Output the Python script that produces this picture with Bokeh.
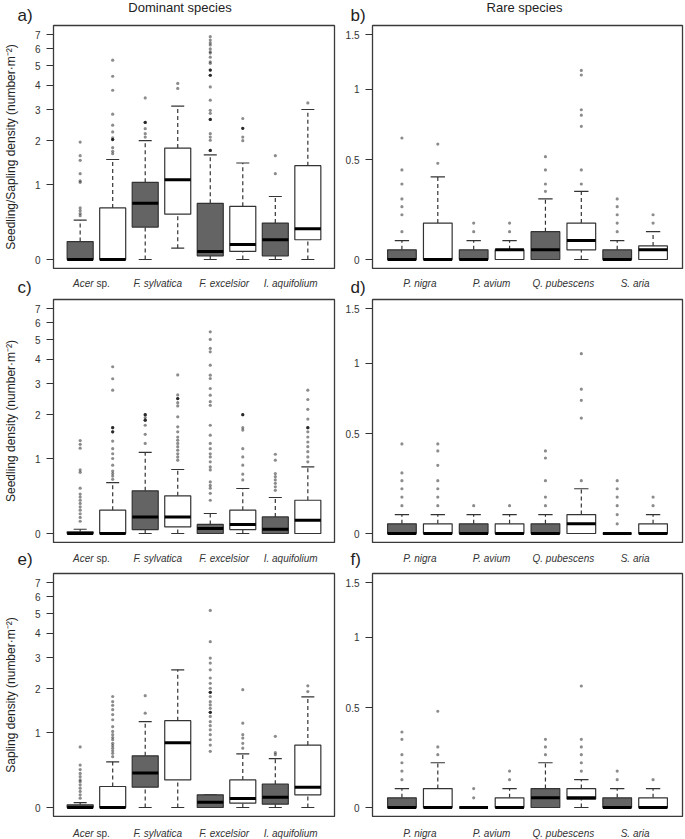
import numpy as np
from bokeh.plotting import figure
from bokeh.models import Range1d, FixedTicker, CustomJSTickFormatter
from bokeh.core.properties import value
from bokeh.layouts import column, row
from bokeh.embed import file_html
from bokeh.resources import INLINE

# ---------------- data (number per m2) ----------------
dominant_species = ["Acer sp.", "F. sylvatica", "F. excelsior", "I. aquifolium"]
rare_species = ["P. nigra", "P. avium", "Q. pubescens", "S. aria"]
box_fills = ["#646464", "#ffffff"] * 4
dominant_ticks = [0, 1, 2, 3, 4, 5, 6, 7]
rare_ticks = [0, 0.5, 1, 1.5]
column_titles = ["Dominant species", "Rare species"]
panel_letters = [["a)", "b)"], ["c)", "d)"], ["e)", "f)"]]

# a) dominant, seedling/sapling
a_lo = [0, 0, 0, 0.11, 0, 0, 0, 0]
a_q1 = [0, 0, 0.35, 0.52, 0.035, 0.077, 0.035, 0.20]
a_med = [0, 0, 0.68, 1.09, 0.077, 0.15, 0.20, 0.33]
a_q3 = [0.18, 0.61, 1.04, 1.80, 0.68, 0.635, 0.40, 1.38]
a_hi = [0.44, 1.52, 2.0, 3.13, 1.63, 1.44, 0.79, 3.0]
a_out = [
    [0.5, 0.53, 0.57, 0.61, 1.04, 1.07, 1.21, 1.5, 1.61, 1.96],
    [1.66, 1.72, 1.81, 2.03, 2.03, 2.03, 2.08, 2.25, 2.46, 2.83, 3.78, 4.44, 5.31],
    [2.1, 2.2, 2.35, 2.55, 2.55, 2.55, 3.45],
    [3.86, 4.09],
    [1.74, 1.74, 1.74, 2.01, 2.1, 2.2, 2.65, 2.65, 2.65, 2.86, 2.97, 3.36, 3.93,
     4.49, 4.49, 4.49, 4.76, 4.76, 4.76, 5.13, 5.22, 5.49, 5.74, 5.82, 6.0, 6.26,
     6.4, 6.6, 6.84],
    [2.0, 2.1, 2.36, 2.36, 2.36, 2.68],
    [1.21, 1.61],
    [3.25],
]

# b) rare, seedling/sapling
b_lo = [0, 0, 0, 0, 0, 0, 0, 0]
b_q1 = [0, 0, 0, 0, 0, 0.04, 0, 0]
b_med = [0, 0, 0, 0.04, 0.04, 0.08, 0, 0.04]
b_q3 = [0.04, 0.16, 0.04, 0.04, 0.12, 0.16, 0.04, 0.057]
b_hi = [0.08, 0.40, 0.08, 0.08, 0.28, 0.32, 0.08, 0.12]
b_out = [
    [0.12, 0.2, 0.24, 0.28, 0.36, 0.44, 0.64],
    [0.48, 0.6],
    [0.12, 0.16],
    [0.12, 0.16],
    [0.32, 0.36, 0.44, 0.52],
    [0.36, 0.44, 0.72, 0.8, 0.84, 1.12, 1.16],
    [0.12, 0.16, 0.2, 0.24, 0.28],
    [0.16, 0.2],
]

# c) dominant, seedling
c_lo = [0, 0, 0, 0, 0, 0, 0, 0]
c_q1 = [0, 0, 0.037, 0.063, 0, 0.037, 0, 0]
c_med = [0, 0, 0.166, 0.166, 0.047, 0.087, 0.04, 0.131]
c_q3 = [0.016, 0.24, 0.483, 0.417, 0.087, 0.24, 0.166, 0.36]
c_hi = [0.04, 0.60, 1.116, 0.807, 0.203, 0.516, 0.395, 0.85]
c_out = [
    [0.12, 0.16, 0.2, 0.24, 0.28, 0.32, 0.36, 0.4, 0.44, 0.52, 0.76, 0.8, 1.2, 1.28, 1.36],
    [0.65, 0.7, 0.74, 0.78, 0.88, 1.0, 1.09, 1.19, 1.35, 1.56, 1.56, 1.56, 1.66, 1.66,
     1.66, 2.76, 3.18, 3.67],
    [1.3, 1.5, 1.72, 1.85, 1.85, 1.85, 1.92, 2.0, 2.0, 2.0],
    [0.97, 1.03, 1.09, 1.16, 1.23, 1.3, 1.37, 1.44, 1.56, 1.68, 1.94, 2.25, 2.35, 2.48,
     2.48, 2.48, 2.6, 3.33],
    [0.36, 0.45, 0.52, 0.56, 0.61, 0.8, 0.85, 0.94, 1.03, 1.09, 1.19, 1.3, 1.48, 1.72,
     2.27, 2.38, 2.59, 2.82, 3.19, 3.32, 3.74, 4.36, 4.53, 5.01, 5.45],
    [0.64, 0.73, 0.88, 1.03, 1.19, 1.6, 1.66, 2.0, 2.0, 2.0],
    [0.49, 0.54, 0.59, 0.64, 0.69, 0.74, 0.97, 1.08],
    [0.94, 1.03, 1.13, 1.23, 1.33, 1.44, 1.56, 1.66, 1.66, 1.66, 1.88, 2.15, 2.45, 2.76],
]

# d) rare, seedling
d_lo = [0, 0, 0, 0, 0, 0, 0, 0]
d_q1 = [0, 0, 0, 0, 0, 0, 0, 0]
d_med = [0, 0, 0, 0, 0, 0.04, 0, 0]
d_q3 = [0.04, 0.04, 0.04, 0.04, 0.04, 0.08, 0, 0.04]
d_hi = [0.08, 0.08, 0.08, 0.08, 0.08, 0.2, 0, 0.08]
d_out = [
    [0.12, 0.16, 0.2, 0.24, 0.28, 0.44],
    [0.12, 0.16, 0.2, 0.24, 0.32, 0.4, 0.44],
    [0.12],
    [0.12],
    [0.12, 0.16, 0.24, 0.36, 0.4],
    [0.24, 0.6, 0.72, 0.8, 1.08],
    [0.04, 0.08, 0.12, 0.16, 0.2, 0.24],
    [0.12, 0.16],
]

# e) dominant, sapling
e_lo = [0, 0, 0, 0, 0, 0, 0, 0]
e_q1 = [0, 0, 0.207, 0.29, 0, 0.041, 0.031, 0.124]
e_med = [0, 0, 0.374, 0.82, 0.05, 0.087, 0.10, 0.207]
e_q3 = [0.025, 0.214, 0.612, 1.23, 0.124, 0.29, 0.24, 0.78]
e_hi = [0.047, 0.525, 1.21, 2.57, 0.124, 0.64, 0.57, 1.78]
e_out = [
    [0.09, 0.124, 0.16, 0.196, 0.233, 0.27, 0.29, 0.33, 0.37, 0.42, 0.48, 0.75],
    [0.6, 0.65, 0.69, 0.73, 0.77, 0.81, 0.87, 0.91, 0.96, 1.02, 1.11, 1.25, 1.36, 1.47,
     1.57, 1.66, 1.79],
    [1.39, 1.81],
    [],
    [0.68, 0.78, 0.87, 0.96, 1.05, 1.13, 1.21, 1.32, 1.41, 1.41, 1.41, 1.5, 1.58, 1.66,
     1.79, 1.9, 1.9, 1.9, 2.01, 2.15, 2.31, 2.57, 2.8, 2.98, 3.63, 5.18],
    [0.73, 0.81, 0.9, 0.96, 1.18, 1.97],
    [0.63, 0.66, 0.93],
    [1.92, 2.08],
]

# f) rare, sapling
f_lo = [0, 0, 0, 0, 0, 0, 0, 0]
f_q1 = [0, 0, 0, 0, 0, 0.035, 0, 0]
f_med = [0, 0, 0, 0, 0.04, 0.04, 0, 0]
f_q3 = [0.04, 0.08, 0, 0.04, 0.08, 0.08, 0.04, 0.04]
f_hi = [0.08, 0.2, 0, 0.08, 0.2, 0.12, 0.08, 0.08]
f_out = [
    [0.12, 0.16, 0.2, 0.24, 0.32, 0.36],
    [0.24, 0.28, 0.48],
    [0.04, 0.08],
    [0.12, 0.16],
    [0.24, 0.28, 0.32],
    [0.16, 0.2, 0.24, 0.28, 0.32, 0.64],
    [0.12, 0.16],
    [0.12],
]

# ---------------- geometry & style ----------------
FONT = "Liberation Sans"
INK = "#333333"
X0, X1 = 0.18, 8.82                      # R-style 4% expanded x limits
GEOM = [dict(fw=287, bl=47, br=6), dict(fw=310, bl=32, br=3)]
FRAME_H = 243
STRIP_H = [24, 29, 29, 22]               # text strips above/between/below rows


def scale(col):
    return GEOM[col]["fw"] / (X1 - X0)


def make_panel(col, ticks, ylabel):
    g = GEOM[col]
    top_val = ticks[-1] + 1.0
    p = figure(width=g["bl"] + g["fw"] + g["br"], height=FRAME_H + 2,
               y_axis_type="log", x_axis_location=None,
               x_range=Range1d(X0, X1),
               y_range=Range1d(top_val ** -0.04, top_val ** 1.04),
               output_backend="svg", toolbar_location=None,
               min_border_left=g["bl"], min_border_right=g["br"],
               min_border_top=1, min_border_bottom=1)
    p.xgrid.visible = False
    p.ygrid.visible = False
    p.background_fill_color = "white"
    p.border_fill_color = "white"
    p.outline_line_color = "#3a3a3a"
    p.outline_line_width = 1.3

    ya = p.yaxis[0]
    ya.ticker = FixedTicker(ticks=[t + 1.0 for t in ticks])
    ya.formatter = CustomJSTickFormatter(code="return String(Math.round((tick - 1) * 10) / 10);")
    ya.axis_line_color = None
    ya.minor_tick_line_color = None
    ya.major_tick_line_color = INK
    ya.major_tick_line_width = 1
    ya.major_tick_out = 7
    ya.major_tick_in = 0
    ya.major_label_standoff = 6
    ya.major_label_text_font = FONT
    ya.major_label_text_font_size = "10px"
    ya.major_label_text_color = INK
    if ylabel:
        ya.axis_label = ylabel
        ya.axis_label_text_font = FONT
        ya.axis_label_text_font_style = "normal"
        ya.axis_label_text_font_size = "12px"
        ya.axis_label_text_color = "#222222"
        ya.axis_label_standoff = 14
    return p


def make_strip(col, h):
    g = GEOM[col]
    sc = scale(col)
    p = figure(width=g["bl"] + g["fw"] + g["br"], height=h,
               x_range=Range1d(X0 - g["bl"] / sc, X1 + g["br"] / sc),
               y_range=Range1d(h, 0),
               x_axis_location=None, y_axis_location=None,
               output_backend="svg", toolbar_location=None, min_border=0)
    p.grid.visible = False
    p.outline_line_color = None
    p.background_fill_color = None
    p.border_fill_color = None
    return p


def txt(p, xs, ys, texts, size, style="normal", align="center", color="#222222"):
    p.text(x=xs, y=ys, text=texts, text_font=value(FONT), text_font_size=value(size),
           text_font_style=value(style), text_align=value(align),
           text_baseline=value("middle"), text_color=color)


def categories(p, col, names, y):
    sc = scale(col)
    pos = [1.5, 3.5, 5.5, 7.5]
    italic_x, italic_t = [], []
    for x, n in zip(pos, names):
        if n.endswith(" sp."):
            genus = n[:-4]
            # "Acer sp.": italic genus, upright "sp."
            split = x + 2.3 / sc
            txt(p, [split], [y], [genus], "10px", "italic", "right", INK)
            txt(p, [split + 2.8 / sc], [y], ["sp."], "10px", "normal", "left", INK)
        else:
            italic_x.append(x)
            italic_t.append(n)
    txt(p, italic_x, [y] * len(italic_x), italic_t, "10px", "italic", "center", INK)


def letter(p, col, text, y):
    sc = scale(col)
    dx = -30 if col == 0 else -22
    txt(p, [X0 + dx / sc], [y], [text], "17px", "normal", "left")


def draw(p, lo, q1, med, q3, hi, outs):
    xs = np.arange(1, 9, dtype=float)
    s = lambda arr: np.asarray(arr, dtype=float) + 1.0
    wk = dict(line_color=INK, line_width=1.2, line_dash="4 3")
    p.segment(x0=xs, x1=xs, y0=s(q3), y1=s(hi), **wk)
    p.segment(x0=xs, x1=xs, y0=s(lo), y1=s(q1), **wk)
    cap = dict(line_color=INK, line_width=1.2)
    p.segment(x0=xs - 0.2, x1=xs + 0.2, y0=s(hi), y1=s(hi), **cap)
    p.segment(x0=xs - 0.2, x1=xs + 0.2, y0=s(lo), y1=s(lo), **cap)
    p.vbar(x=xs, width=0.8, bottom=s(q1), top=s(q3), fill_color=box_fills,
           line_color=INK, line_width=1.2)
    p.segment(x0=xs - 0.4, x1=xs + 0.4, y0=s(med), y1=s(med),
              line_color="black", line_width=3)
    ox = [i + 1.0 for i, o in enumerate(outs) for _ in o]
    oy = [v + 1.0 for o in outs for v in o]
    p.scatter(ox, oy, size=3.2, fill_color="black", fill_alpha=0.45, line_color=None)


unit = "(number\u00b7m\u207b\u00b2)"
ylabels = ["Seedling/Sapling density " + unit, "Seedling density " + unit,
           "Sapling density " + unit]
panel_data = [
    [(a_lo, a_q1, a_med, a_q3, a_hi, a_out), (b_lo, b_q1, b_med, b_q3, b_hi, b_out)],
    [(c_lo, c_q1, c_med, c_q3, c_hi, c_out), (d_lo, d_q1, d_med, d_q3, d_hi, d_out)],
    [(e_lo, e_q1, e_med, e_q3, e_hi, e_out), (f_lo, f_q1, f_med, f_q3, f_hi, f_out)],
]
col_names = [dominant_species, rare_species]
col_ticks = [dominant_ticks, rare_ticks]

strips = [[make_strip(c, h) for c in range(2)] for h in STRIP_H]

# top strip: column titles and first panel letters
title_center_px = [132.5, 152]
for c in range(2):
    sc = scale(c)
    txt(strips[0][c], [X0 + title_center_px[c] / sc], [7], [column_titles[c]], "13px")
    letter(strips[0][c], c, panel_letters[0][c], 15)

# in-between strips: categories of the row above + letters of the row below
cat_y = [14.3, 14.5]
letter_y = [17.5, 16]
for k in (1, 2):
    for c in range(2):
        categories(strips[k][c], c, col_names[c], cat_y[k - 1])
        letter(strips[k][c], c, panel_letters[k][c], letter_y[k - 1])
for c in range(2):
    categories(strips[3][c], c, col_names[c], 15.5)

rows = []
for r in range(3):
    figs = []
    for c in range(2):
        p = make_panel(c, col_ticks[c], ylabels[r] if c == 0 else None)
        draw(p, *panel_data[r][c])
        figs.append(p)
    rows.append(figs)

layout = column(
    row(*strips[0]),
    row(*rows[0]),
    row(*strips[1]),
    row(*rows[1]),
    row(*strips[2]),
    row(*rows[2]),
    row(*strips[3]),
)
open("out.html", "w").write(file_html(layout, INLINE))
